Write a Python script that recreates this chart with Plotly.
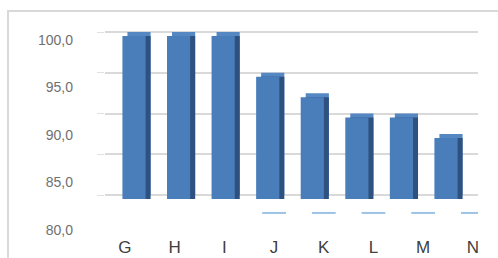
import plotly.graph_objects as go

categories = ["G", "H", "I", "J", "K", "L", "M", "N"]
values = [100.0, 100.0, 100.0, 95.0, 92.5, 90.0, 90.0, 87.5]
y_ticks = [80, 85, 90, 95, 100]
base_value = 80
floor_cats = ["J", "K", "L", "M", "N"]
floor_level = [77.8, 77.8, 77.8, 77.8, 77.8]

W, H = 498, 258
lengths = [v - base_value for v in values]

front_col = "#4A7EBB"
top_col = "#5587C2"
side_col = "#2E5180"
bar_w = 0.52
shift = 5 / 44.57
d3 = 4 / 8.15

fig = go.Figure()
# top face (back, raised)
fig.add_trace(go.Bar(x=categories, y=lengths, base=base_value, width=bar_w,
                     offset=-bar_w / 2 + shift, marker=dict(color=top_col, line=dict(width=0)),
                     xaxis="x", yaxis="y", hoverinfo="skip", showlegend=False))
# side face
fig.add_trace(go.Bar(x=categories, y=lengths, base=base_value, width=bar_w,
                     offset=-bar_w / 2 + shift, marker=dict(color=side_col, line=dict(width=0)),
                     xaxis="x", yaxis="y3", hoverinfo="skip", showlegend=False))
# front face
fig.add_trace(go.Bar(x=categories, y=lengths, base=base_value, width=bar_w,
                     offset=-bar_w / 2, marker=dict(color=front_col, line=dict(width=0)),
                     xaxis="x", yaxis="y3", showlegend=False))
# floor dashes
fig.add_trace(go.Scatter(x=floor_cats, y=floor_level, mode="markers",
                         marker=dict(symbol="line-ew", size=17, line=dict(width=2, color="#9DC3E6")),
                         xaxis="x2", yaxis="y", hoverinfo="skip", showlegend=False))
# invisible trace for label axes
fig.add_trace(go.Scatter(x=categories, y=values, mode="markers", marker=dict(opacity=0),
                         xaxis="x2", yaxis="y2", hoverinfo="skip", showlegend=False))

dom = [105 / W, 478 / W]
ylo, yhi = 72.27, 103.93

fig.update_layout(
    width=W, height=H,
    margin=dict(l=0, r=0, t=0, b=0),
    paper_bgcolor="white", plot_bgcolor="white",
    barmode="overlay",
    separators=", ",
    font=dict(family="Liberation Sans, Arial, sans-serif"),
    xaxis=dict(domain=dom, range=[-0.651, 7.718], type="category",
               categoryorder="array", categoryarray=categories,
               showticklabels=False, showgrid=False, showline=False, zeroline=False,
               anchor="y"),
    yaxis=dict(domain=[0, 1], range=[ylo, yhi], tickvals=y_ticks, showticklabels=False,
               showgrid=True, gridcolor="#D9D9D9", gridwidth=2, zeroline=False,
               showline=False, ticks="outside", ticklen=7, tickcolor="#E0E0E0", anchor="x"),
    yaxis3=dict(overlaying="y", range=[ylo + d3, yhi + d3], visible=False),
    xaxis2=dict(overlaying="x", range=[-0.402, 7.103], type="category",
                categoryorder="array", categoryarray=categories,
                anchor="free", position=0.09, side="bottom",
                showgrid=False, showline=False, zeroline=False, ticks="",
                tickfont=dict(size=17, color="#404040")),
    yaxis2=dict(overlaying="y", range=[77.05, 104.21], tickvals=y_ticks, tickformat=".1f",
                anchor="free", position=73 / W, side="left",
                showgrid=False, showline=False, zeroline=False, ticks="",
                tickfont=dict(size=14, color="#707070")),
    shapes=[dict(type="rect", xref="paper", yref="paper", x0=8 / W, x1=1.2,
                 y0=-0.2, y1=1 - 11 / H, line=dict(color="#D9D9D9", width=2), layer="below")],
)

fig.write_html("out.html", config={"displayModeBar": False},
               post_script="document.body.style.margin='0';")
